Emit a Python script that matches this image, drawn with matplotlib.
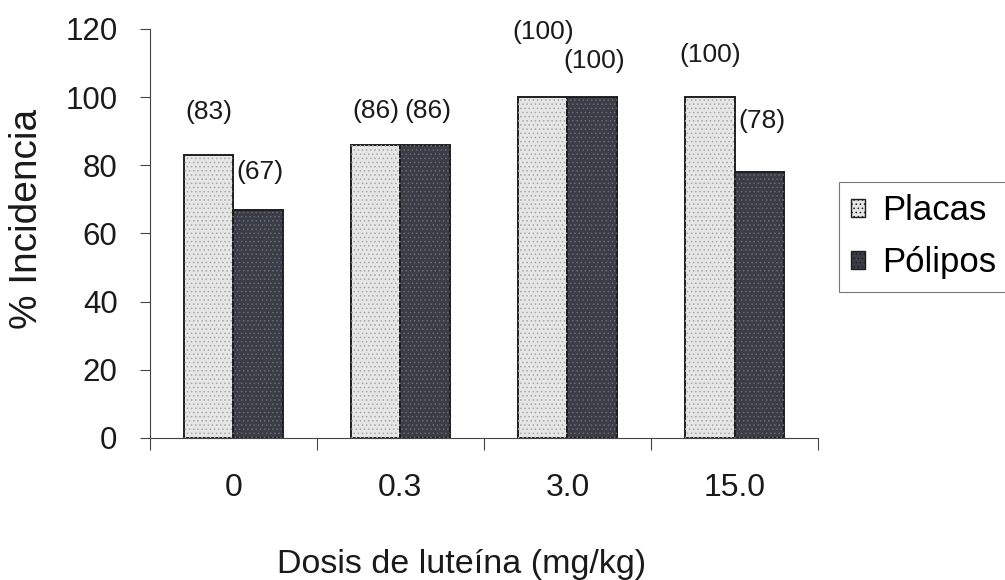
import numpy as np
import matplotlib.pyplot as plt
from matplotlib.patches import Patch

plt.rcParams['font.family'] = ['Liberation Sans', 'DejaVu Sans']
plt.rcParams['hatch.linewidth'] = 0.6

dosis = ['0', '0.3', '3.0', '15.0']
placas = [83, 86, 100, 100]
polipos = [67, 86, 100, 78]
label_placas = ['(83)', '(86)', '(100)', '(100)']
label_polipos = ['(67)', '(86)', '(100)', '(78)']

# vertical offsets of the value labels (as in the original figure)
off_placas = [12.6, 10, 19, 12.3]
off_polipos = [11, 10, 10.6, 15]

c_placas = '#e6e6e6'
c_polipos = '#3a3c46'

fig = plt.figure(figsize=(10.05, 5.8), dpi=100)
ax = fig.add_axes([0.149, 0.245, 0.665, 0.705])

x = np.arange(len(dosis))
w = 0.295

ax.bar(x - w / 2, placas, w, color=c_placas, edgecolor='#1e1e1e', linewidth=1.4, zorder=2)
ax.bar(x + w / 2, polipos, w, color=c_polipos, edgecolor='#1e1e1e', linewidth=1.4, zorder=2)
# dotted texture
ax.bar(x - w / 2, placas, w, color='none', edgecolor='#a8a8a8', linewidth=0, hatch='....', zorder=3)
ax.bar(x + w / 2, polipos, w, color='none', edgecolor='#656a76', linewidth=0, hatch='....', zorder=3)

for i in range(len(dosis)):
    ax.text(x[i] - w / 2, placas[i] + off_placas[i], label_placas[i],
            ha='center', va='center', fontsize=19, color='#1a1a1a')
    ax.text(x[i] + w / 2 + 0.015, polipos[i] + off_polipos[i], label_polipos[i],
            ha='center', va='center', fontsize=19, color='#1a1a1a')

ax.set_xlim(-0.5, 3.5)
ax.set_ylim(0, 120)
ax.set_yticks(range(0, 121, 20))
ax.set_xticks(x)
ax.set_xticklabels(dosis)
ax.set_xticks(np.arange(-0.5, 4, 1), minor=True)
ax.tick_params(axis='x', which='major', length=0, labelsize=23, pad=25, labelcolor='#1a1a1a')
ax.tick_params(axis='x', which='minor', length=8.6, width=0.8, direction='out', color='#444444')
ax.tick_params(axis='y', length=7.2, width=0.8, labelsize=22.5, pad=16, color='#444444', labelcolor='#1a1a1a')

for s in ['top', 'right']:
    ax.spines[s].set_visible(False)
for s in ['left', 'bottom']:
    ax.spines[s].set_linewidth(0.8)
    ax.spines[s].set_color('#444444')

ax.set_xlabel('Dosis de luteína (mg/kg)', fontsize=24.5, va='baseline', color='#1a1a1a')
ax.xaxis.set_label_coords(0.467, -0.330)
ax.set_ylabel('% Incidencia', fontsize=28, va='center', ha='center', color='#1a1a1a')
ax.yaxis.set_label_coords(-0.184, 0.535)

handles = [Patch(facecolor=c_placas, edgecolor='#1e1e1e', hatch='....'),
           Patch(facecolor=c_polipos, edgecolor='#1e1e1e', hatch='....')]
leg = fig.legend(handles, ['Placas', 'Pólipos'], loc='upper left', bbox_to_anchor=(0.835, 0.686),
                 fontsize=25, frameon=True, fancybox=False, edgecolor='#555555',
                 handlelength=0.4, handleheight=0.4, handletextpad=0.5,
                 borderpad=0.35, borderaxespad=0, labelspacing=0.55)
leg.get_frame().set_linewidth(0.8)

fig.savefig('out.png', dpi=100)
